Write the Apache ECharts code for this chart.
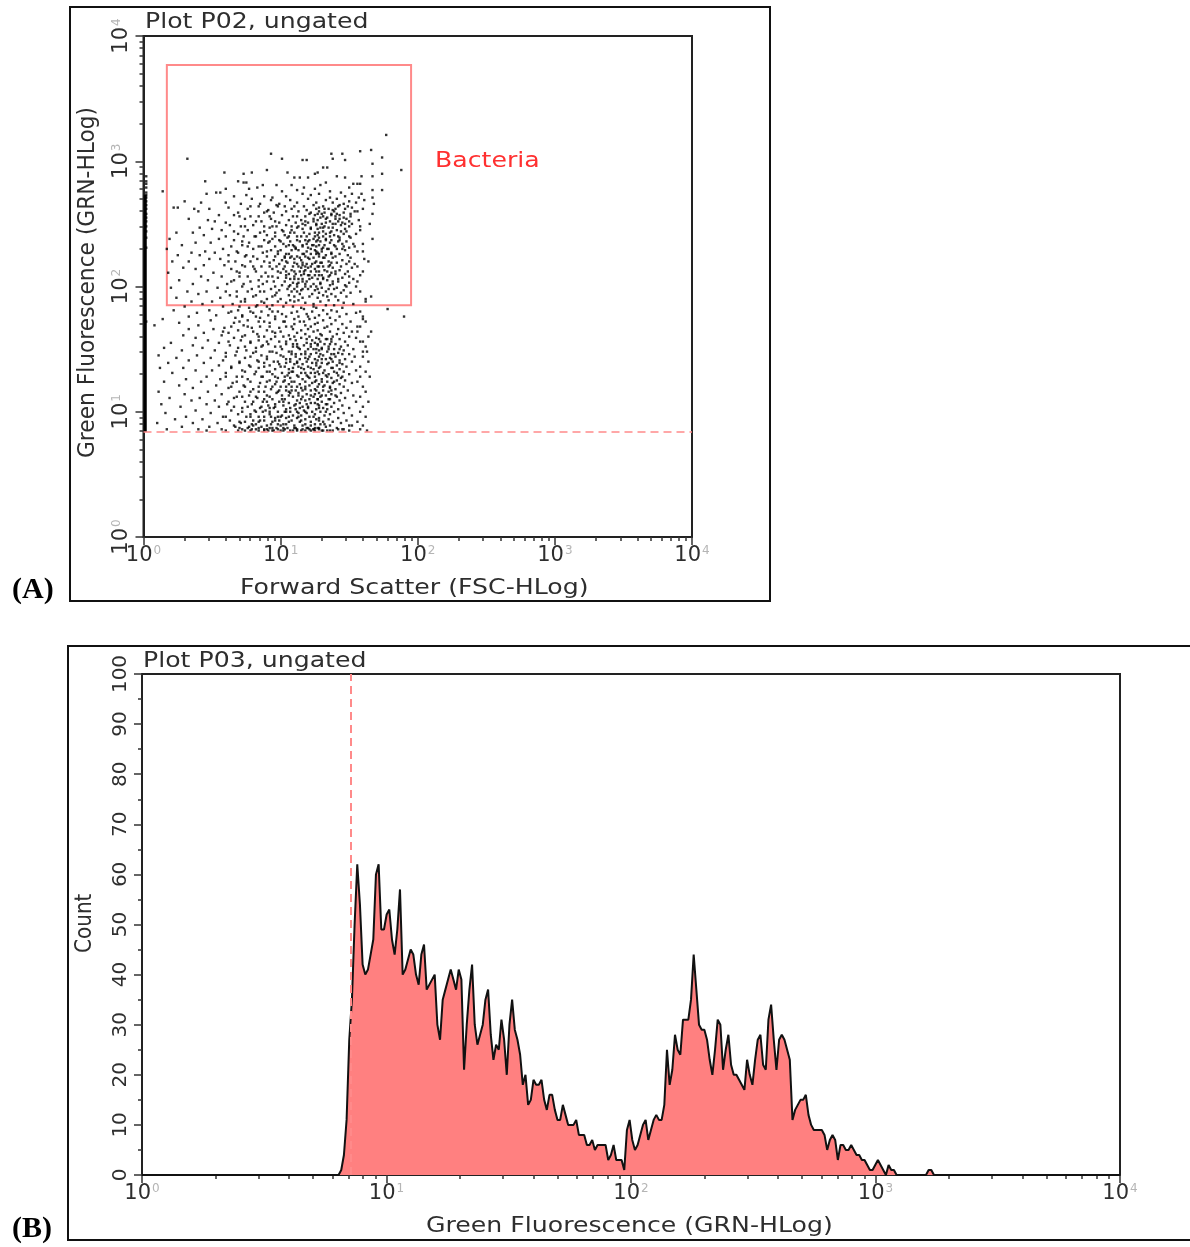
<!DOCTYPE html>
<html>
<head>
<meta charset="utf-8">
<style>html,body{margin:0;padding:0;background:#fff}#main{width:1190px;height:1247px}</style>
<script src="https://cdn.jsdelivr.net/npm/echarts@6/dist/echarts.min.js"></script>
</head>
<body>
<div id="main"></div>
<script>
// plot A
// each row: GRN position (hundredths of a decade), then FSC positions of the dots in that row
var scatterRows=[
[321,177],[309,166],[308,158],[306,137,145,93],[303,174],[302,32,101,138],[301,116,119,147],[298,167],[295,131,134],[293,188,90],[291,59,105,79,127],[290,125,174,73],
[288,159,167,141,2],[287,120,147,110,114],[284,45,69,2],[283,73,75,133],[282,156,158,153,2],[281,87,129,108,97],[279,150,83,117,2],[278,60,125,77],[277,174,112,167],
[276,14,136,101],[275,56,144,53,2],[274,46,128,116,159,152],[273,75,122,2],[272,66,147,104,88],[271,157,94,136,167,2],[270,120,79,141],[269,93,133,161,107],[268,150,30,2],
[267,42,112,138,60,126,155],[266,71,168,85,146,99],[265,97,124,143,2],[264,117,84,103,131,149],[263,22,62,128,25,152],[262,108,135,48,160,37,76,2],[261,119,91,138],
[260,40,156,139,113],[259,95,132,69,122,146,88],[258,167,127,141,2],[257,66,125,55,101,137,143],[256,84,118,151,78,109,131],[255,134,146,129,2],[254,74,93,33,148,140],
[253,127,47,115,106,157],[252,136,124,52,82,142,2],[251,60,133,145,99,120,111],[250,165,152,138,130],[249,126,104,63,80,144,118],[248,150,97,88,71,113,2],[247,135,129,41,92],
[246,122,50,147,127,116],[245,158,101,57,141,76,108],[244,137,131,144,2],[243,85,125,24,36,96,110],[242,146,121,69,155,133],[241,103,139,44,127,90],[240,60,119,136,73,112,81],
[239,128,151,143,105,2],[238,94,133,167,19,55,124],[237,66,137,118,88,99],[236,107,129,142,148,114,126],[235,38,77,136,49,91],[234,153,102,119,160,145],[233,123,109,28,132,72],
[232,64,116,140,84,96,126,104],[231,150,131,120,111,2],[230,17,135,58,80,141],[229,93,100,147,125,108,113],[228,156,45,119,130],[227,35,87,52,127,69,137],[226,143,98,122,106,116],
[225,25,149,133,41,62,75],[224,90,118,112,103,128],[223,151,138,124,132,107],[222,110,161,83,121,48,56],[221,95,145,101,115],[220,135,21,33,126,67,78],[219,92,141,105,129],
[218,99,119,148,154,112,123],[217,44,136,116,59,72],[216,127,86,97,131,144,109],[215,152,120,29,138,115],[214,38,64,125,81,94,102],[213,108,132,118,143],[212,122,149,114,128],
[211,18,51,70,137,89,100],[210,140,106,111,147,117],[209,158,121,130,125],[208,42,135,57,76,91],[207,123,98,145,131,104],[206,127,110,153,116],[205,26,47,134,66,84],
[204,103,138,95,142,119],[203,150,129,113,109],[202,36,61,124,73,87],[201,136,107,101,147],[200,122,155,118,126,112],[199,130,141,20,54],[198,79,93,139,120,105],
[197,146,125,99,115],[196,32,46,133,68,85,108],[195,97,144,151,128],[194,114,123,40,137],[193,63,82,131,96,106],[192,110,148,121,140],[191,24,116,56,127],[190,74,162,90,100],
[189,135,107,142,113],[188,35,50,129,71],[187,88,104,146,118],[186,43,124,65,153],[185,83,94,133,139],[184,102,109,30,58],[183,77,145,115,126],[182,92,117,178],
[181,22,48,137,69,131],[180,86,98,123,141],[179,39,108,62,155,80],[178,101,119,134,148],[177,53,128,72,91],[176,104,190,143,113,33],[175,67,85,125,136],
[174,96,14,110,160,121],[173,49,76,140,131],[172,84,117,151,103,2],[171,26,127,66,92],[170,110,137,125,145],[169,8,40,73,118],[168,85,122,156,104,134],
[167,59,132,148,79,99],[166,33,51,120,109,142],[165,69,127,90,115],[164,152,124,166,136],[163,44,112,62,96,146],[162,83,129,118,141],[161,29,106,57,130,74],
[160,88,138,102,121,150],[159,38,126,66,115,155],[158,93,134,143,107],[157,47,71,123,111,84],[156,99,137,129,158,147],[155,20,119,55,78,125],[154,91,104,140,132],
[153,36,117,149,63,87,127],[152,96,109,135,144,122],[151,15,43,130,69,82,113],[150,101,153,120,139,124],[149,28,52,128,75,146],[148,92,106,134,118,160],[147,60,80,126,142,97],
[146,108,137,115,122,150],[145,11,39,67,131,86,100],[144,111,140,121,154,128],[143,24,49,74,118,136],[142,90,104,147,125,114,133],[141,33,58,83,143,127],[140,95,107,119,138,152],
[139,18,44,123,70,130,88],[138,99,116,145,110,134],[137,55,77,141,126,92],[136,103,120,148,129,113],[135,12,29,64,137,84],[134,96,124,106,143,117],[133,155,132,38,50,72],
[132,90,127,109,139,146],[131,101,115,122,21,60],[130,81,135,94,150,128],[129,105,119,112,142,133],[128,46,68,125,87,158],[127,98,137,107,121,144],[126,31,56,76,130,116],
[125,92,141,103,126,147],[124,110,134,118,15,42],[123,65,123,85,152,138],[122,96,128,106,143,114],[121,26,53,132,73,121],[120,89,146,100,127,108],[119,115,136,36,62],
[118,80,125,140,93,118],[117,104,131,149,111,122],[116,11,47,70,135,84],[115,97,128,107,144,113],[114,119,137,125,30,57],[113,77,153,90,133,101],[112,109,124,141,116,129],
[111,19,41,66,147,83],[110,94,121,103,136,127],[109,112,143,118,35,52],[108,74,130,87,155,99],[107,106,125,139,114,122],[106,13,46,61,133,79],[105,91,145,102,128,110],
[104,116,137,120,27,55],[103,72,150,85,131,95],[102,104,126,142,111,134],[101,38,64,117,81,89],[100,98,123,139,107,129],[99,113,146,119,16,49],[98,69,136,78,125,92],
[97,101,132,152,109,115],[96,31,58,121,75,84],[95,96,142,104,128,112],[94,118,135,23,43,126],[93,63,148,80,88,99],[92,106,122,131,114,138],[91,10,36,54,144,71],
[90,82,125,93,102,129],[89,110,150,116,136,122],[88,28,48,67,133,77,86],[87,97,141,105,119,127],[86,112,158,124,17,40,146],[85,60,131,74,84,91,107,138,118],
[85,100,125,46,115,69,95,109,134,150,163],[86,57,79,103,121,128,88,145]
];
// extra dots of the dense patches in plot A, same layout
var denseRows=[
[262,132,140,147,126],[258,137,130,121,151],[254,133,143,124],[250,140,126,147,116],[247,131,112,122,138],[243,128,136,117,107],[240,125,142,131,115],
[237,112,127,133,121,143],[233,128,139,116,106,124],[230,111,130,122,145,134],[226,117,128,137,104,126],[223,114,120,131,103],[219,125,110,137,116,130],
[216,103,135,122,113,128],[212,110,117,134,126,140],[209,104,115,128,136,120],[206,113,121,131,107,142],[202,118,112,129,138],[198,110,127,135,116],
[158,128,119,137,133],[154,122,112,136,127,109],[150,130,114,126,143,135],[146,118,129,139,111,145],[142,120,137,107,130],[139,112,126,135,143,104],
[135,115,128,138,109,122],[131,106,125,131,118,141],[128,113,120,134,145,103],[124,108,125,130,139,97],[120,118,112,136,104,131],[117,126,99,116,137,108],
[113,122,106,130,113,140],[110,115,101,127,135,88],[106,119,96,111,127,134],[103,107,120,92,128,114],[100,112,103,118,87,133],[96,106,124,93,113,100],
[93,115,85,128,108,96],[90,104,118,79,98,132],[87,111,92,125,102,120]
];
// dots on the left and right flanks of both clouds
var flankRows=[
[264,98,110,78,142],[260,104,90,128,154],[256,92,112,70,140],[252,96,86,118,150],[248,74,108,94,132,158],[244,88,102,66,148],[240,96,82,106,150],[236,72,92,100,120],
[232,86,76,110,146,154],[228,98,68,90,126,160],[224,80,96,74,140,108],[220,88,104,62,150,164],[216,74,92,80,118,156],[212,82,98,68,104,160],[208,70,86,94,110,150],
[204,78,90,64,116,156],[200,84,72,96,106,148],[196,76,88,60,112,158],[192,68,94,80,134,166],[188,86,74,98,110,162],[184,70,82,90,124],
[180,64,78,94,112,158],[176,82,72,96,120,160],[172,70,88,102,114,162],[168,64,92,76,108,158],[164,80,94,58,100,156],[160,72,84,96,110,164],[156,62,78,90,104,160],
[152,74,86,100,112,162],[148,68,82,94,108,163],[144,78,90,60,102,160],[140,70,84,98,112,164],[136,64,78,88,100,158],[132,74,92,82,108,162],[128,60,72,86,96,165],
[124,78,90,68,102,156],[120,74,84,94,64,160],[116,88,78,98,106,162],[112,68,82,92,72,158],[108,80,90,62,102,164],[104,76,86,96,66,160],[100,82,72,92,104,158],
[96,78,88,60,98,162],[92,70,84,94,74,156],[89,66,80,90,100,152,160],[87,70,76,84,94,110,128],[86,72,82,90,98,116,124,142],[85,78,88,94,102,112,122,130,136]
];
// forward scatter pile-up along the left axis of plot A
var pileFsc=[1.03,1.03];
var pileGrn=[6.9,540];
// gate and threshold of plot A
var gateFsc=[1.48,89.4];
var gateGrn=[71,5870];
var thresholdGrn=6.9;

// plot B histogram, one count per channel, starting at histFirstDecade
var histCounts=[
0,1,4,11,27,35,50,62,54,42,40,41,44,47,60,62,49,49,52,53,47,44,49,57,40,41,43,45,44,40,38,44,46,37,38,39,40,30,27,35,37,39,41,39,37,41,39,21,30,37,42,
30,26,28,30,35,37,28,23,26,25,31,27,20,30,35,29,27,24,18,20,14,15,19,18,18,19,15,13,16,16,13,11,11,14,12,10,10,10,11,8,8,8,6,6,7,5,6,6,6,6,
3,4,6,3,3,3,1,9,11,7,5,6,8,10,11,7,9,11,12,11,11,14,25,18,21,28,25,24,31,31,31,35,44,37,30,29,29,27,23,20,25,31,30,21,25,28,22,20,20,19,
18,17,23,20,18,23,27,28,22,21,31,34,27,21,27,28,27,25,23,11,13,14,15,15,16,12,10,9,9,9,9,8,5,7,8,7,3,6,6,5,5,6,5,4,4,3,3,2,1,1,
2,3,2,1,0,2,1,1,0,0,0,0,0,0,0,0,0,0,0,0,1,1,0
];
var histFirstDecade=0.804;
var histDecadesPerChannel=0.01092;
var histThreshold=7.15;

// ticks
var majorTicks=[1,10,100,1000,10000];
var logTicks=[1,2,3,4,5,6,7,8,9,10,20,30,40,50,60,70,80,90,100,200,300,400,500,600,700,800,900,1000,2000,3000,4000,5000,6000,7000,8000,9000,10000];

var scatterData=[];
scatterRows.concat(denseRows,flankRows).forEach(function(row){
    for(var i=1;i<row.length;i++){
        scatterData.push([Math.pow(10,row[i]/100),Math.pow(10,row[0]/100)]);
    }
});
var histData=[[1,0]];
histCounts.forEach(function(c,i){
    histData.push([Math.pow(10,histFirstDecade+i*histDecadesPerChannel),c]);
});
histData.push([10000,0]);

var textColor='#2e2e2e';
var fontFamily='"DejaVu Sans"';
var lineRed='#ff8a8a';

function powerLabel(value){
    return '{b|10}{s|'+Math.round(Math.log10(value))+'}';
}
var labelRich={
    b:{fontFamily:fontFamily,fontSize:21,color:textColor},
    s:{fontFamily:fontFamily,fontSize:12,color:'#b5b5b5',verticalAlign:'top',padding:[0,0,10,1]}
};
function logAxis(pos,grid){
    // labelled axis with the long ticks
    return {
        type:'log',logBase:10,min:1,max:10000,gridIndex:grid,position:pos,
        axisLine:{show:true,lineStyle:{color:'#222',width:2}},
        axisTick:{show:true,length:8,customValues:majorTicks,lineStyle:{color:'#333',width:1.5}},
        axisLabel:{show:true,rotate:pos=='left'?90:0,margin:pos=='left'?11:8,customValues:majorTicks,formatter:powerLabel,rich:labelRich},
        splitLine:{show:false}
    };
}
function logMinorAxis(pos,grid){
    return {
        type:'log',logBase:10,min:1,max:10000,gridIndex:grid,position:pos,
        axisLine:{show:false},
        axisTick:{show:true,length:4,customValues:logTicks,lineStyle:{color:'#333',width:1.5}},
        axisLabel:{show:false},
        splitLine:{show:false}
    };
}
function wideText(text,x,y,color){
    return {type:'text',x:x,y:y,scaleX:1.145,style:{text:text,font:'22px "DejaVu Sans"',fill:color||textColor,textVerticalAlign:'middle'}};
}

var myChart=echarts.init(document.getElementById('main'),null,{renderer:'canvas'});
var option={
    backgroundColor:'#fff',
    animation:false,
    grid:[
        {left:143.5,top:36,width:548.5,height:501,show:true,borderColor:'#222',borderWidth:2,backgroundColor:'#fff'},
        {left:142,top:674,width:978,height:501,show:true,borderColor:'#222',borderWidth:2,backgroundColor:'#fff'}
    ],
    xAxis:[
        logAxis('bottom',0),
        logMinorAxis('bottom',0),
        logAxis('bottom',1),
        logMinorAxis('bottom',1)
    ],
    yAxis:[
        logAxis('left',0),
        logMinorAxis('left',0),
        {
            type:'value',min:0,max:100,interval:10,gridIndex:1,
            axisLine:{show:true,lineStyle:{color:'#222',width:2}},
            axisTick:{show:true,length:8,lineStyle:{color:'#333',width:1.5}},
            minorTick:{show:true,splitNumber:2,length:4,lineStyle:{color:'#333',width:1.5}},
            axisLabel:{rotate:90,margin:11,fontFamily:fontFamily,fontSize:20,color:textColor},
            splitLine:{show:false}
        }
    ],
    series:[
        {
            type:'line',xAxisIndex:0,yAxisIndex:0,
            data:[[pileFsc[0],pileGrn[0]],[pileFsc[1],pileGrn[1]]],
            symbol:'none',lineStyle:{color:'#000',width:3},z:3
        },
        {
            type:'scatter',xAxisIndex:0,yAxisIndex:0,
            data:scatterData,symbol:'rect',symbolSize:2.4,
            itemStyle:{color:'#000'},large:false,z:4,silent:true,
            markArea:{
                silent:true,
                itemStyle:{color:'rgba(0,0,0,0)',borderColor:lineRed,borderWidth:2},
                data:[[{coord:[gateFsc[0],gateGrn[0]]},{coord:[gateFsc[1],gateGrn[1]]}]]
            },
            markLine:{
                silent:true,symbol:'none',label:{show:false},
                lineStyle:{color:lineRed,type:[8,5],width:1.5},
                data:[{yAxis:thresholdGrn}]
            }
        },
        {
            type:'line',xAxisIndex:2,yAxisIndex:2,
            data:histData,symbol:'none',
            lineStyle:{color:'#111',width:2},
            areaStyle:{color:'#ff8080',opacity:1},
            markLine:{
                silent:true,symbol:'none',label:{show:false},
                lineStyle:{color:lineRed,type:[8,5],width:2},
                data:[{xAxis:histThreshold}]
            },
            z:3
        }
    ],
    graphic:[
        {type:'rect',shape:{x:70,y:7,width:700,height:594},style:{fill:'none',stroke:'#111',lineWidth:2},z:-1},
        {type:'rect',shape:{x:68,y:646,width:1300,height:594},style:{fill:'none',stroke:'#111',lineWidth:2},z:-1},
        wideText('Plot P02, ungated',145,22),
        wideText('Plot P03, ungated',143,661),
        wideText('Bacteria',435,161,'#ff3030'),
        wideText('Forward Scatter (FSC-HLog)',240,588),
        wideText('Green Fluorescence (GRN-HLog)',426,1226),
        {type:'text',x:88,y:458,rotation:Math.PI/2,scaleX:1.087,scaleY:1.15,style:{text:'Green Fluorescence (GRN-HLog)',font:'20px "DejaVu Sans"',fill:textColor,textVerticalAlign:'middle'}},
        {type:'text',x:85,y:953,rotation:Math.PI/2,scaleX:1.0,scaleY:1.15,style:{text:'Count',font:'20px "DejaVu Sans"',fill:textColor,textVerticalAlign:'middle'}},
        {type:'text',x:12,y:575,style:{text:'(A)',font:'bold 30px "Liberation Serif"',fill:'#000'}},
        {type:'text',x:12,y:1214,style:{text:'(B)',font:'bold 30px "Liberation Serif"',fill:'#000'}}
    ]
};
myChart.setOption(option);
</script>
</body>
</html>
